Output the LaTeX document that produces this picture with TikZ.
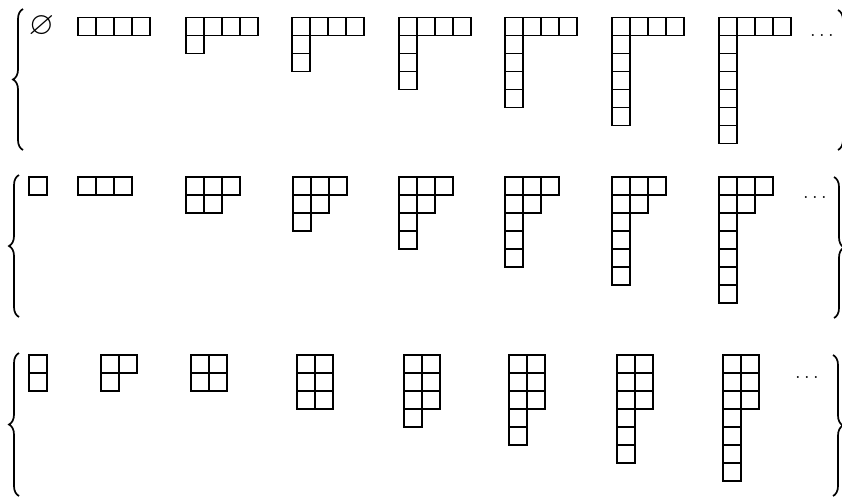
\documentclass[tikz,border=0pt]{standalone}
\usepackage{amssymb}
\usetikzlibrary{decorations.pathreplacing}

\tikzset{
  cell/.style={draw,line width=1.8pt},
  setbrace/.style={decorate,decoration={brace,amplitude=10pt},line width=1.7pt},
  more/.style={font=\huge,inner sep=0pt},
}
% Young diagram: #1 left, #2 top, #3 row lengths
\newcommand{\youngdiag}[3]{%
  \foreach \len [count=\r from 0] in {#3}{%
    \foreach \c in {1,...,\len}{%
      \draw[cell] ({#1+(\c-1)*18},{#2+\r*18}) rectangle ++(18,18);
    }%
  }%
}

\begin{document}
\begin{tikzpicture}[x=1pt,y=-1pt]
        \clip (0,0) rectangle (842,496);
        % first set
        \draw[setbrace] (23,150) -- (23,9);
        \node[font=\Huge,scale=1.3,inner sep=0pt] (empty) at (41.5,26) {$\varnothing$};
        \youngdiag{78}{17.5}{4}
        \youngdiag{186}{17.5}{4,1}
        \youngdiag{292}{17.5}{4,1,1}
        \youngdiag{399}{17.5}{4,1,1,1}
        \youngdiag{505}{17.5}{4,1,1,1,1}
        \youngdiag{612}{17.5}{4,1,1,1,1,1}
        \youngdiag{719}{17.5}{4,1,1,1,1,1,1}
        \node[more] (dotsa) at (822,35) {$\ldots$};
        \draw[setbrace] (838,10) -- (838,150);
        % second set
        \draw[setbrace] (19,317) -- (19,175);
        \youngdiag{29}{177}{1}
        \youngdiag{78}{177}{3}
        \youngdiag{186}{177}{3,2}
        \youngdiag{293}{177}{3,2,1}
        \youngdiag{399}{177}{3,2,1,1}
        \youngdiag{505}{177}{3,2,1,1,1}
        \youngdiag{612}{177}{3,2,1,1,1,1}
        \youngdiag{719}{177}{3,2,1,1,1,1,1}
        \node[more] (dotsb) at (815,197) {$\ldots$};
        \draw[setbrace] (834,177) -- (834,318);
        % third set
        \draw[setbrace] (19,496) -- (19,353);
        \youngdiag{29}{355}{1,1}
        \youngdiag{101}{355}{2,1}
        \youngdiag{191}{355}{2,2}
        \youngdiag{297}{355}{2,2,2}
        \youngdiag{404}{355}{2,2,2,1}
        \youngdiag{509}{355}{2,2,2,1,1}
        \youngdiag{617}{355}{2,2,2,1,1,1}
        \youngdiag{723}{355}{2,2,2,1,1,1,1}
        \node[more] (dotsc) at (807,377) {$\ldots$};
        \draw[setbrace] (833,355) -- (833,496);
      \end{tikzpicture}
\end{document}
